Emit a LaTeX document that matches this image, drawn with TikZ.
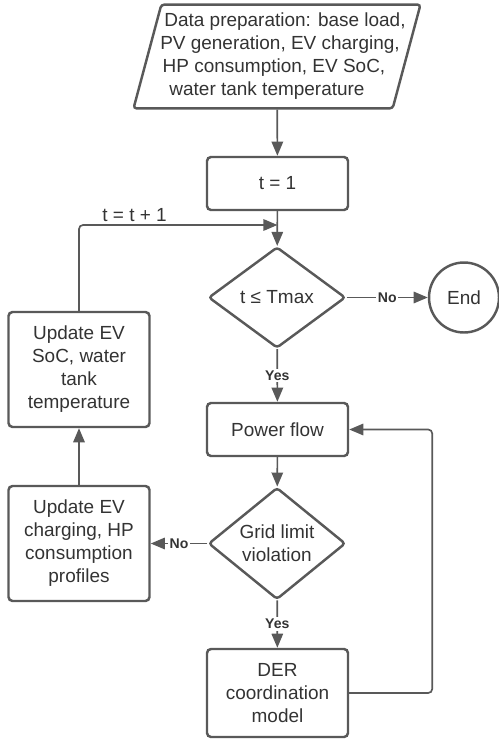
\documentclass[tikz,border=0pt]{standalone}
\usepackage{fontspec}
\setmainfont{Liberation Sans}
\usetikzlibrary{arrows.meta,shapes.geometric}
\definecolor{linegray}{HTML}{595959}
\definecolor{textgray}{HTML}{333333}

\begin{document}
\begin{tikzpicture}[x=0.02cm,y=-0.02cm,>={Triangle[length=8pt,width=6.5pt]},
  every node/.style={font=\fontsize{10.8}{13.1}\selectfont,text=textgray},
  box/.style={draw=linegray,line width=1.4pt,rounded corners=0.08cm,minimum width=2.82cm,align=center},
  cond/.style={diamond,draw=linegray,line width=1.4pt,rounded corners=0.06cm,minimum width=2.74cm,minimum height=2.02cm,align=center,inner sep=0pt},
  conn/.style={->,draw=linegray,line width=0.95pt},
  yesno/.style={font=\bfseries\fontsize{8}{9}\selectfont,fill=white,inner sep=1pt}]
\useasboundingbox (0,0) rectangle (499,740);
% main column
\node[trapezium,trapezium left angle=75,trapezium right angle=105,trapezium stretches body,
  draw=linegray,line width=1.4pt,rounded corners=0.06cm,minimum width=5.74cm,minimum height=2.06cm,inner xsep=0pt] (data) at (277,56.5)
  {\makebox[4cm]{\begin{tabular}{@{}c@{}}\hspace*{0.32cm}Data preparation: base load,\\ \hspace*{0.12cm}PV generation, EV charging,\\ HP consumption, EV SoC,\hspace*{0.12cm}\\ water tank temperature\hspace*{0.4cm}\end{tabular}}};
\node[box,minimum height=1.06cm] (init) at (277.5,183.5) {t = 1};
\node[cond] (check) at (277,297.5) {t ≤ Tmax};
\node[circle,draw=linegray,line width=1.4pt,minimum size=1.4cm,inner sep=0pt] (finish) at (464,297.5) {End};
\node[box,minimum height=1.06cm] (pf) at (277.5,429.5) {Power flow};
\node[cond,minimum height=2.06cm] (grid) at (277,543.5) {Grid limit\\violation};
\node[box,minimum height=1.76cm] (der) at (277.5,693) {DER\\coordination\\model};
% update boxes
\node[box,minimum height=2.3cm] (upsoc) at (79,369.5) {Update EV\\SoC, water\\tank\\temperature};
\node[box,minimum height=2.3cm] (upprof) at (79,543.5) {Update EV\\charging, HP\\consumption\\profiles};
\coordinate (join) at (277.5,225);

\draw[conn] (data) -- (init);
\draw[conn] (init) -- (check);
\draw[conn] (check) -- node[yesno] {No} (finish);
\draw[conn] (check) -- node[yesno] {Yes} (pf);
\draw[conn] (pf) -- (grid);
\draw[conn] (grid) -- node[yesno] {No} (upprof);
\draw[conn] (grid) -- node[yesno] {Yes} (der);
\draw[conn] (upprof) -- (upsoc);
\draw[conn,rounded corners=0.08cm] (upsoc) |- node[pos=0.64,above,inner sep=0.06cm] {t = t + 1} (join);
\draw[conn,rounded corners=0.08cm] (der.east) -- ++(83,0) |- (pf.east);
\end{tikzpicture}
\end{document}
